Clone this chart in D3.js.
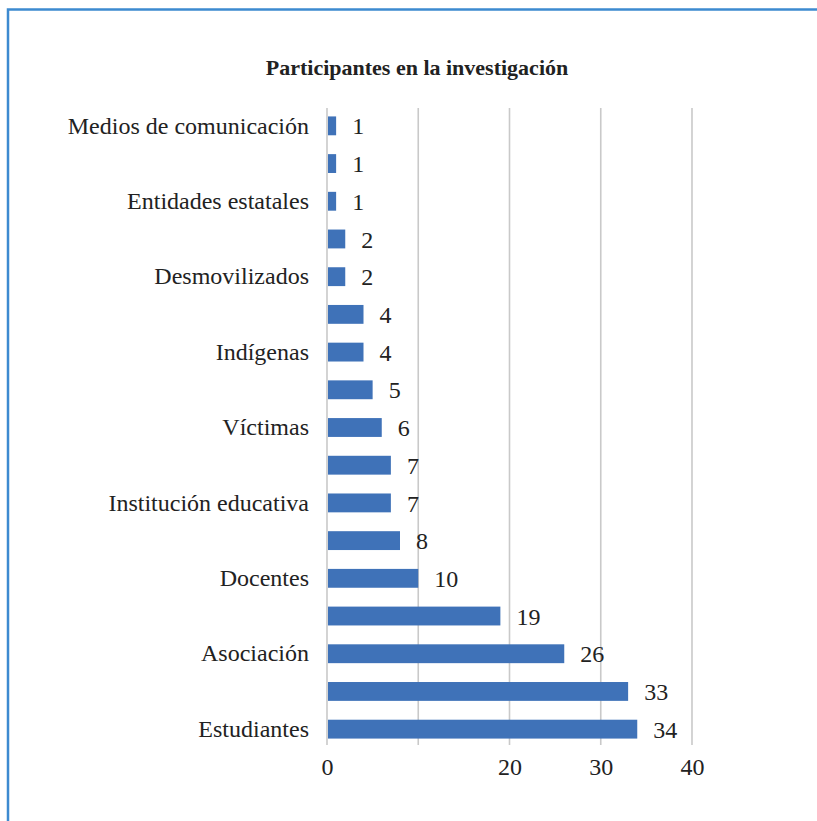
<!DOCTYPE html>
<html><head><meta charset="utf-8">
<script src="https://cdn.jsdelivr.net/npm/d3@7"></script>
<style>body{margin:0;background:#fff}svg{display:block}</style>
</head><body>
<svg id="chart" width="817" height="821"></svg>
<script>
const categories = ["c1","c2","c3","c4","c5","c6","c7","c8","c9","c10","c11","c12","c13","c14","c15","c16","c17"];
const categoryLabels = ["Medios de comunicación","","Entidades estatales","","Desmovilizados","","Indígenas","","Víctimas","","Institución educativa","","Docentes","","Asociación","","Estudiantes"];
const values = [1,1,1,2,2,4,4,5,6,7,7,8,10,19,26,33,34];
const gridValues = [0,10,20,30,40];
const tickLabels = [0,20,30,40];
const title = "Participantes en la investigación";

const svg = d3.select("#chart");
const serif = "Liberation Serif, Times New Roman, serif";

// frame
svg.append("path").attr("d","M8,821 L8,9.5 L817,9.5")
  .attr("fill","none").attr("stroke","#3d8ad0").attr("stroke-width",2.5);

const x = d3.scaleLinear().domain([0,40]).range([327,692]);
const y = d3.scaleBand().domain(categories).range([107,748]).paddingInner(0.5).paddingOuter(0.25);

svg.append("text").attr("x",417).attr("y",75).attr("text-anchor","middle")
  .style("font-family",serif).attr("font-weight","bold").attr("font-size",22).attr("fill","#222")
  .text(title);

// grid
svg.append("g").selectAll("line").data(gridValues).join("line")
  .attr("x1",d=>x(d)).attr("x2",d=>x(d)).attr("y1",108).attr("y2",745)
  .attr("stroke","#c9c9c9").attr("stroke-width",1.6);

// bars
svg.append("g").selectAll("rect").data(values).join("rect")
  .attr("x",x(0)+1).attr("y",(d,i)=>y(categories[i]))
  .attr("width",d=>x(d)-x(0)-1).attr("height",y.bandwidth())
  .attr("fill","#3f72b8");

// value labels
svg.append("g").selectAll("text").data(values).join("text")
  .attr("x",d=>x(d)+16).attr("y",(d,i)=>y(categories[i])+y.bandwidth()/2)
  .attr("dy","0.36em").style("font-family",serif).attr("font-size",24).attr("fill","#222")
  .text(d=>d);

// category axis
const yAxis = d3.axisLeft(y).tickSize(0).tickPadding(18).tickFormat((d,i)=>categoryLabels[i]);
const ga = svg.append("g").attr("transform","translate(327,0)").call(yAxis);
ga.select(".domain").remove();
ga.selectAll("text").style("font-family",serif).attr("font-size",24).attr("fill","#222");

// x axis
const xAxis = d3.axisBottom(x).tickValues(tickLabels).tickSize(0).tickPadding(13).tickFormat(d3.format("d"));
const gx = svg.append("g").attr("transform","translate(0,745)").call(xAxis);
gx.select(".domain").remove();
gx.selectAll("text").style("font-family",serif).attr("font-size",24).attr("fill","#222");
</script>
</body></html>
